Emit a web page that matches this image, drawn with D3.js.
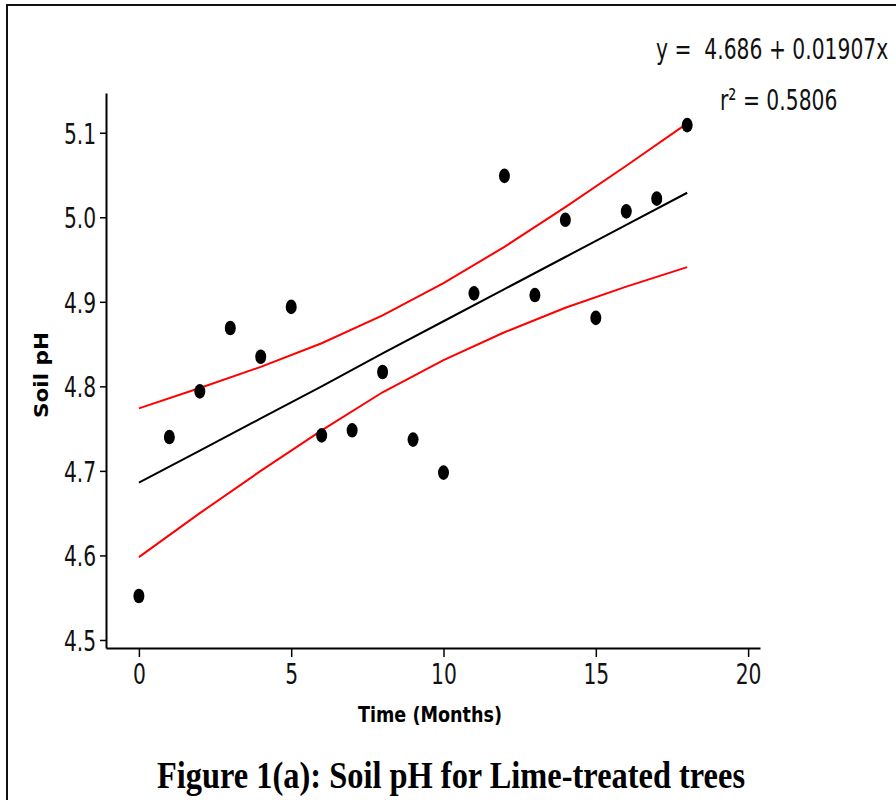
<!DOCTYPE html>
<html>
<head>
  <style>
    body { margin: 0; background: #fff; }
    svg { display: block; }
  </style>
</head>
<body>
  <svg id="chart" width="896" height="800"></svg>
  <script src="https://d3js.org/d3.v7.min.js"></script>
  <script>
    // data
    const months = [0, 1, 2, 3, 4, 5, 6, 7, 8, 9, 10, 11, 12, 13, 14, 15, 16, 17, 18]
    const soilPH = [4.552, 4.740, 4.794, 4.869, 4.835, 4.894, 4.742, 4.748, 4.817, 4.737,
                    4.698, 4.910, 5.049, 4.908, 4.997, 4.881, 5.007, 5.022, 5.109]
    const bandX = [0, 2, 4, 6, 8, 10, 12, 14, 16, 18]
    const fitY = [4.686, 4.724, 4.762, 4.800, 4.839, 4.877, 4.915, 4.953, 4.991, 5.029]
    const upperY = [4.774, 4.798, 4.823, 4.851, 4.884, 4.922, 4.965, 5.012, 5.061, 5.111]
    const lowerY = [4.598, 4.650, 4.700, 4.748, 4.793, 4.831, 4.864, 4.893, 4.918, 4.941]
    const xTicks = [0, 5, 10, 15, 20]
    const yTicks = [4.5, 4.6, 4.7, 4.8, 4.9, 5.0, 5.1]

    const svg = d3.select('#chart')
    const sans = '"DejaVu Sans", sans-serif'

    // outer frame (runs off the right edge)
    svg.append('path')
      .attr('d', 'M7,800 L7,5 L896,5')
      .attr('fill', 'none').attr('stroke', '#111').attr('stroke-width', 2)

    const x = d3.scaleLinear().domain([-1.08, 20.39]).range([106, 760])
    const y = d3.scaleLinear().domain([4.4905, 5.147]).range([648, 93])

    const xAxis = svg.append('g')
      .attr('transform', 'translate(0,648)')
      .call(d3.axisBottom(x).tickValues(xTicks).tickSize(9).tickSizeOuter(0).tickPadding(6).tickFormat(d3.format('d')))
    const yAxis = svg.append('g')
      .attr('transform', 'translate(106,0)')
      .call(d3.axisLeft(y).tickValues(yTicks).tickSize(6).tickSizeOuter(0).tickPadding(3).tickFormat(d3.format('.1f')))

    for (const ax of [xAxis, yAxis]) {
      ax.select('.domain').attr('stroke', '#000').attr('stroke-width', 2)
      ax.selectAll('.tick line').attr('stroke', '#000').attr('stroke-width', 1.5)
      ax.selectAll('.tick text').attr('fill', '#111').style('font-family', sans).style('font-size', '29px')
        .attr('transform', 'scale(0.7,1)')
    }
    yAxis.selectAll('.tick text').attr('dy', '0.36em').attr('x', -14)

    const line = d3.line().x((d, i) => x(bandX[i])).y(d => y(d))
    svg.append('path').datum(upperY).attr('d', line).attr('fill', 'none').attr('stroke', '#ff0000').attr('stroke-width', 2)
    svg.append('path').datum(lowerY).attr('d', line).attr('fill', 'none').attr('stroke', '#ff0000').attr('stroke-width', 2)
    svg.append('path').datum(fitY).attr('d', line).attr('fill', 'none').attr('stroke', '#000').attr('stroke-width', 2)

    svg.selectAll('.pt').data(soilPH).enter()
      .append('ellipse')
      .attr('class', 'pt')
      .attr('cx', (d, i) => x(months[i]))
      .attr('cy', d => y(d))
      .attr('rx', 5.5).attr('ry', 7.3)
      .attr('fill', '#000')

    // axis titles
    svg.append('text')
      .attr('x', 430).attr('y', 722)
      .attr('text-anchor', 'middle')
      .attr('textLength', 144).attr('lengthAdjust', 'spacingAndGlyphs')
      .style('font-family', sans).style('font-weight', 'bold').style('font-size', '22px')
      .text('Time (Months)')
    svg.append('text')
      .attr('transform', 'translate(48,375) rotate(-90)')
      .attr('text-anchor', 'middle')
      .attr('textLength', 86).attr('lengthAdjust', 'spacingAndGlyphs')
      .style('font-family', sans).style('font-weight', 'bold').style('font-size', '19px')
      .text('Soil pH')

    // regression annotation (squeezed like the original's condensed type)
    svg.append('text')
      .attr('transform', 'translate(656,59) scale(0.7,1)')
      .style('font-family', sans).style('font-size', '29px').attr('fill', '#111')
      .style('white-space', 'pre')
      .text('y =  4.686 + 0.01907x')
    svg.append('text')
      .attr('transform', 'translate(720,110) scale(0.7,1)')
      .style('font-family', sans).style('font-size', '29px').attr('fill', '#111')
      .text('r² = 0.5806')

    // figure caption
    svg.append('text')
      .attr('x', 451).attr('y', 788)
      .attr('text-anchor', 'middle')
      .attr('textLength', 588).attr('lengthAdjust', 'spacingAndGlyphs')
      .style('font-family', '"Liberation Serif", "DejaVu Serif", serif').style('font-weight', 'bold').style('font-size', '38px')
      .text('Figure 1(a): Soil pH for Lime-treated trees')
  </script>
</body>
</html>
